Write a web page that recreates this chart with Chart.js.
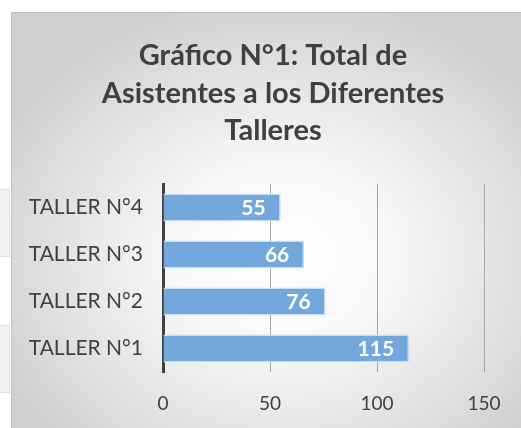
<!DOCTYPE html>
<html>
<head>
<meta charset="utf-8">
<script src="https://cdn.jsdelivr.net/npm/chart.js@4"></script>
<style>
  html, body { margin: 0; padding: 0; background: #fff; }
  #wrap { position: relative; width: 521px; height: 428px; overflow: hidden; }
  #panel {
    position: absolute; left: 11px; top: 12px; width: 520px; height: 420px;
    border-top: 1px solid #bcbcbc; border-left: 1px solid #c4c4c4;
    background: radial-gradient(ellipse 60% 62% at 52% 58%, #ffffff 0%, #f8f8f8 35%, #dddddd 80%, #d0d0d0 100%);
  }
  .side { position: absolute; left: -2px; width: 10px; background: #f3f3f3; border: 1px solid #e2e2e2; }
  canvas { position: absolute; left: 0; top: 0; }
</style>
</head>
<body>
<div id="wrap">
  <div class="side" style="top:189px;height:66px"></div>
  <div class="side" style="top:325px;height:66px"></div>
  <div id="panel"></div>
  <canvas id="chart" width="521" height="428"></canvas>
</div>
<script>
const titleLines = ["Gráfico N°1: Total de", "Asistentes a los Diferentes", "Talleres"];
const categories = ["TALLER N°4", "TALLER N°3", "TALLER N°2", "TALLER N°1"];
const attendees = [55, 66, 76, 115];
const xTicks = [0, 50, 100, 150];

const FONT = "Lato, 'Open Sans', sans-serif";
const TEXT = "#404040";

// three-line title, centred on the panel rather than on the plot
const titleBlock = {
  id: "titleBlock",
  afterDraw(chart) {
    const ctx = chart.ctx;
    ctx.save();
    ctx.font = "bold 29px " + FONT;
    ctx.fillStyle = TEXT;
    ctx.textAlign = "center";
    ctx.textBaseline = "middle";
    titleLines.forEach((line, i) => {
      ctx.fillText(line, 273, 56 + i * 37.5);
    });
    ctx.restore();
  },
};

// white value labels near the end of each bar
const barLabels = {
  id: "barLabels",
  afterDatasetsDraw(chart) {
    const ctx = chart.ctx;
    const meta = chart.getDatasetMeta(0);
    ctx.save();
    ctx.font = "bold 21px " + FONT;
    ctx.fillStyle = "#ffffff";
    ctx.textAlign = "right";
    ctx.textBaseline = "middle";
    meta.data.forEach((bar, i) => {
      ctx.fillText(String(attendees[i]), bar.x - 15, bar.y + 1);
    });
    ctx.restore();
  },
};

new Chart(document.getElementById("chart").getContext("2d"), {
  type: "bar",
  data: {
    labels: categories,
    datasets: [
      {
        data: attendees,
        backgroundColor: "#72a8db",
        borderColor: "#c9def2",
        borderWidth: 1.5,
        borderSkipped: "left",
        barPercentage: 0.6,
        categoryPercentage: 1,
      },
    ],
  },
  options: {
    indexAxis: "y",
    responsive: false,
    animation: false,
    layout: {
      padding: { top: 184, right: 37, bottom: 12, left: 12 },
    },
    plugins: {
      legend: { display: false },
      tooltip: { enabled: false },
      title: { display: false },
    },
    scales: {
      x: {
        min: 0,
        max: 150,
        afterBuildTicks(axis) {
          axis.ticks = xTicks.map((v) => ({ value: v }));
        },
        afterFit(axis) {
          axis.height = 44;
        },
        ticks: {
          color: TEXT,
          font: { family: FONT, size: 19 },
          padding: 20,
        },
        grid: { color: "#a6a6a6", lineWidth: 1, drawTicks: false },
        border: { display: false },
      },
      y: {
        afterFit(axis) {
          axis.width = 151;
        },
        ticks: {
          color: TEXT,
          font: { family: FONT, size: 21 },
          padding: 20,
        },
        grid: { display: false, drawTicks: false },
        border: { display: true, color: "#404040", width: 3 },
      },
    },
  },
  plugins: [barLabels, titleBlock],
});
</script>
</body>
</html>
